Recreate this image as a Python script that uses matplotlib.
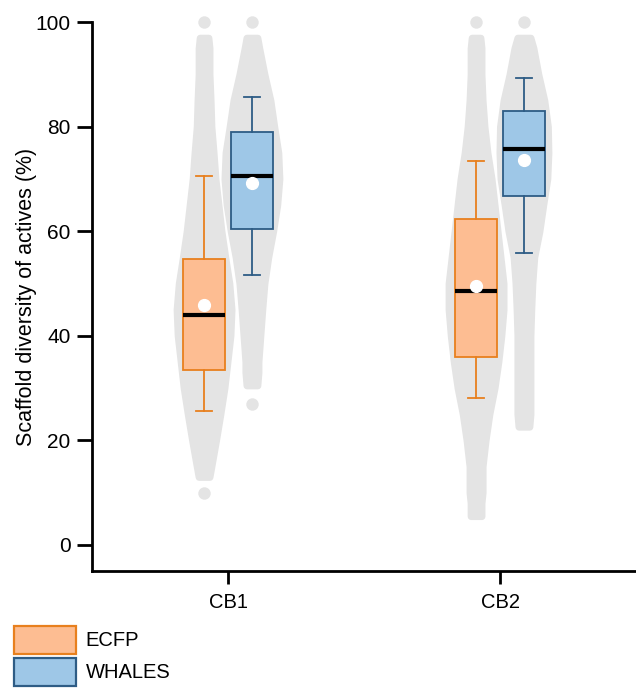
import numpy as np
import matplotlib
matplotlib.use("Agg")
import matplotlib.pyplot as plt
from matplotlib.patches import Patch

plt.rcParams['font.family'] = ['Liberation Sans', 'DejaVu Sans']

# ---------------- data ----------------
categories = ["CB1", "CB2"]
series = ["ECFP", "WHALES"]

# box statistics (%)
ecfp_whislo = [25.6, 28.0]
ecfp_q1 = [33.4, 36.0]
ecfp_med = [44.0, 48.6]
ecfp_q3 = [54.7, 62.3]
ecfp_whishi = [70.6, 73.5]
ecfp_mean = [45.8, 49.5]

whales_whislo = [51.7, 55.8]
whales_q1 = [60.5, 66.7]
whales_med = [70.5, 75.7]
whales_q3 = [78.9, 83.0]
whales_whishi = [85.7, 89.2]
whales_mean = [69.3, 73.7]

# background swarm outline: levels (%) and half-width (x units)
cb1_ecfp_lvl = [13, 15, 20, 25, 30, 35, 40, 45, 50, 55, 60, 65, 70, 75, 80, 85, 90, 95, 97]
cb1_ecfp_hw = [0.020, 0.027, 0.044, 0.060, 0.075, 0.086, 0.097, 0.101, 0.093, 0.078, 0.064, 0.053, 0.042, 0.035, 0.027, 0.024, 0.020, 0.020, 0.016]
cb1_ecfp_iso = [100, 10]

cb1_whales_lvl = [30.5, 33, 35, 40, 45, 50, 55, 60, 65, 70, 75, 80, 85, 90, 95, 97]
cb1_whales_hw = [0.020, 0.024, 0.024, 0.031, 0.038, 0.046, 0.060, 0.078, 0.093, 0.101, 0.097, 0.082, 0.068, 0.046, 0.027, 0.020]
cb1_whales_iso = [100, 27]

cb2_ecfp_lvl = [5.5, 8, 10, 15, 20, 25, 30, 35, 40, 45, 50, 55, 60, 65, 70, 75, 80, 85, 90, 95, 97]
cb2_ecfp_hw = [0.020, 0.020, 0.024, 0.024, 0.035, 0.049, 0.068, 0.082, 0.093, 0.101, 0.101, 0.090, 0.079, 0.068, 0.057, 0.042, 0.031, 0.024, 0.020, 0.020, 0.016]
cb2_ecfp_iso = [100]

cb2_whales_lvl = [22.6, 25, 30, 35, 40, 45, 50, 55, 60, 65, 70, 75, 80, 85, 90, 95, 97]
cb2_whales_hw = [0.020, 0.024, 0.024, 0.024, 0.024, 0.027, 0.031, 0.038, 0.057, 0.071, 0.086, 0.090, 0.088, 0.075, 0.053, 0.035, 0.024]
cb2_whales_iso = [100]

yticks = [0, 20, 40, 60, 80, 100]
ylabel = "Scaffold diversity of actives (%)"

# ---------------- style ----------------
ecfp_face, ecfp_edge = "#fdbd92", "#e8801e"
whales_face, whales_edge = "#9ec7e7", "#2e5c85"
swarm_color = "#e4e4e4"
offset = 0.088
box_w = 0.157

fig = plt.figure(figsize=(6.36, 6.88), dpi=100)
ax = fig.add_axes([92 / 636, 1 - 571 / 688, 1 - 92 / 636, (571 - 22) / 688])

x = np.arange(len(categories))

swarms = [
    (x[0] - offset, cb1_ecfp_lvl, cb1_ecfp_hw, cb1_ecfp_iso),
    (x[0] + offset, cb1_whales_lvl, cb1_whales_hw, cb1_whales_iso),
    (x[1] - offset, cb2_ecfp_lvl, cb2_ecfp_hw, cb2_ecfp_iso),
    (x[1] + offset, cb2_whales_lvl, cb2_whales_hw, cb2_whales_iso),
]
for pos, lvl, hw, iso in swarms:
    lvl = np.asarray(lvl)
    hw = np.asarray(hw)
    ax.fill_betweenx(lvl, pos - hw, pos + hw, color=swarm_color, lw=5,
                     edgecolor=swarm_color, joinstyle='round', zorder=1, clip_on=False)
    ax.scatter([pos] * len(iso), iso, s=80, color=swarm_color, lw=0, zorder=1, clip_on=False)


def make_stats(lo, q1, med, q3, hi, mean):
    return [dict(whislo=lo[i], q1=q1[i], med=med[i], q3=q3[i], whishi=hi[i],
                 mean=mean[i], fliers=[]) for i in range(len(med))]


for stats, pos, face, edge in [
    (make_stats(ecfp_whislo, ecfp_q1, ecfp_med, ecfp_q3, ecfp_whishi, ecfp_mean), x - offset, ecfp_face, ecfp_edge),
    (make_stats(whales_whislo, whales_q1, whales_med, whales_q3, whales_whishi, whales_mean), x + offset, whales_face, whales_edge),
]:
    ax.bxp(stats, positions=pos, widths=box_w, patch_artist=True, showmeans=True,
           showfliers=False, manage_ticks=False,
           boxprops=dict(facecolor=face, edgecolor=edge, linewidth=1.3),
           whiskerprops=dict(color=edge, linewidth=1.3),
           capprops=dict(color=edge, linewidth=1.3),
           capwidths=0.06,
           medianprops=dict(color="black", linewidth=3.0, solid_capstyle='butt'),
           meanprops=dict(marker="o", markerfacecolor="white", markeredgecolor="white",
                          markersize=8.5),
           zorder=3)

ax.set_xlim(-0.5, 1.5)
ax.set_ylim(-5, 100)
ax.set_xticks(x)
ax.set_xticklabels(categories, fontsize=14.5)
ax.set_yticks(yticks)
ax.set_yticklabels([str(t) for t in yticks], fontsize=15)
ax.set_ylabel(ylabel, fontsize=15.5)
ax.yaxis.set_label_coords(-0.102, 0.5)

for s in ["top", "right"]:
    ax.spines[s].set_visible(False)
for s in ["left", "bottom"]:
    ax.spines[s].set_linewidth(2.0)
ax.tick_params(axis="y", length=10.5, width=2.0, pad=5, colors="black")
ax.tick_params(axis="x", length=9.5, width=2.0, pad=6, colors="black")
ax.patch.set_alpha(0)

handles = [Patch(facecolor=ecfp_face, edgecolor=ecfp_edge, linewidth=1.6, label=series[0]),
           Patch(facecolor=whales_face, edgecolor=whales_edge, linewidth=1.6, label=series[1])]
fig.legend(handles=handles, loc="upper left", bbox_to_anchor=(14 / 636, 1 - 626 / 688),
           frameon=False, fontsize=14.5, handlelength=3.1, handleheight=1.75,
           handletextpad=0.45, labelspacing=0.2, borderpad=0, borderaxespad=0)

fig.savefig("out.png", dpi=100)
